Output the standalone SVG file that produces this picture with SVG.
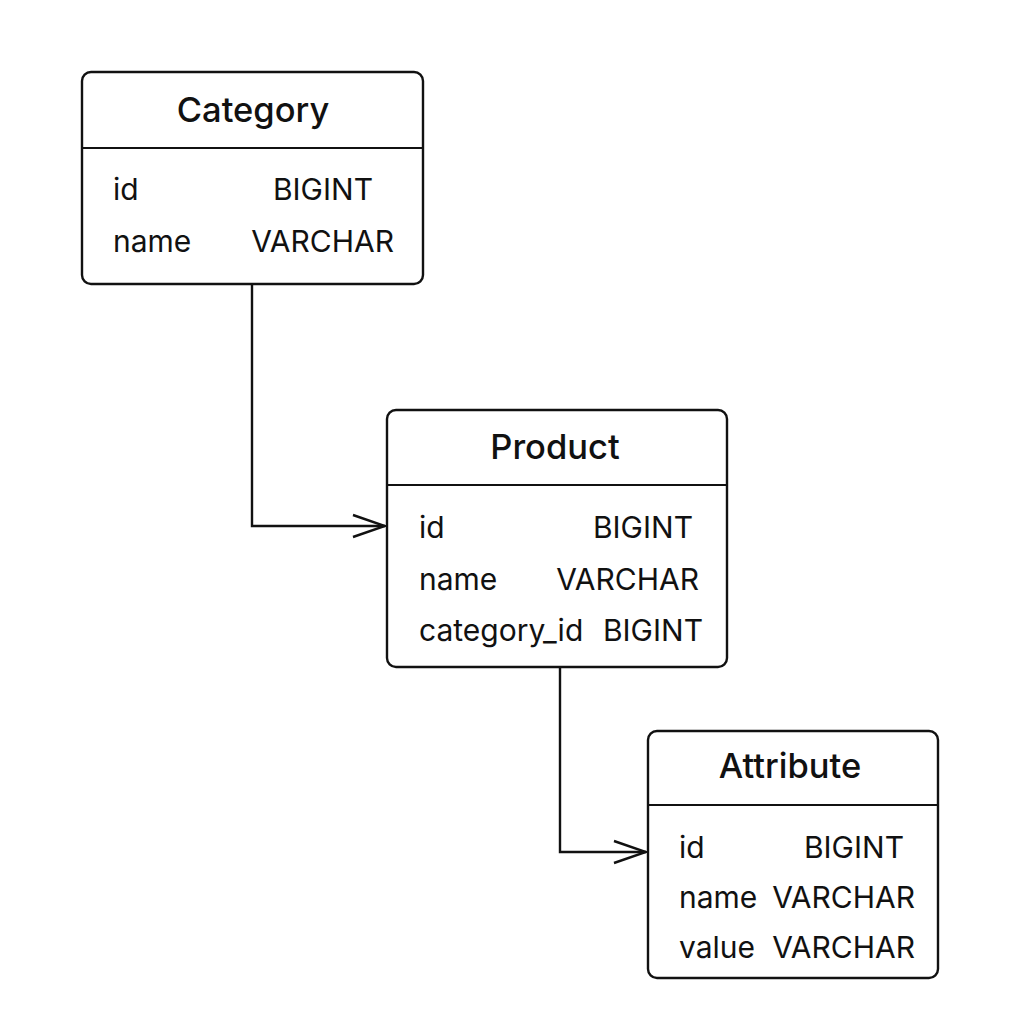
<svg xmlns="http://www.w3.org/2000/svg" width="1024" height="1024" viewBox="0 0 1024 1024">
<defs>
<style>
.box{fill:#fff;stroke:#111;stroke-width:2.4}
.div{stroke:#111;stroke-width:2.2}
.title{font-family:Inter,"Liberation Sans",sans-serif;font-size:34.5px;font-weight:500;fill:#111;text-anchor:middle}
.f{font-family:Inter,"Liberation Sans",sans-serif;font-size:30px;fill:#111}
.t{font-family:Inter,"Liberation Sans",sans-serif;font-size:30px;fill:#111;text-anchor:end}
.conn{fill:none;stroke:#111;stroke-width:2.4}
</style>
<marker id="arr" viewBox="0 0 36 26" refX="34" refY="13" markerWidth="36" markerHeight="26" markerUnits="userSpaceOnUse" orient="auto">
<path d="M2,2 L34,13 L2,24" fill="none" stroke="#111" stroke-width="2.4"/>
</marker>
</defs>
<rect width="1024" height="1024" fill="#fff"/>
<g id="connectors">
<path class="conn" d="M252,284 V526 H385" marker-end="url(#arr)"/>
<path class="conn" d="M560,667 V852 H646" marker-end="url(#arr)"/>
</g>
<g id="category">
<rect class="box" x="82" y="72" width="341" height="212" rx="9"/>
<line class="div" x1="82" y1="148" x2="423" y2="148"/>
<text class="title" x="253" y="122">Category</text>
<text class="f" x="113" y="200">id</text>
<text class="t" x="373" y="200">BIGINT</text>
<text class="f" x="113" y="252">name</text>
<text class="t" x="394" y="252">VARCHAR</text>
</g>
<g id="product">
<rect class="box" x="387" y="410" width="340" height="257" rx="9"/>
<line class="div" x1="387" y1="485" x2="727" y2="485"/>
<text class="title" x="555" y="459">Product</text>
<text class="f" x="419" y="538">id</text>
<text class="t" x="693" y="538">BIGINT</text>
<text class="f" x="419" y="590">name</text>
<text class="t" x="699" y="590">VARCHAR</text>
<text class="f" x="419" y="641">category_id</text>
<text class="t" x="703" y="641">BIGINT</text>
</g>
<g id="attribute">
<rect class="box" x="648" y="731" width="290" height="247" rx="9"/>
<line class="div" x1="648" y1="805" x2="938" y2="805"/>
<text class="title" x="790" y="778">Attribute</text>
<text class="f" x="679" y="858">id</text>
<text class="t" x="904" y="858">BIGINT</text>
<text class="f" x="679" y="908">name</text>
<text class="t" x="915" y="908">VARCHAR</text>
<text class="f" x="679" y="958">value</text>
<text class="t" x="915" y="958">VARCHAR</text>
</g>
</svg>
